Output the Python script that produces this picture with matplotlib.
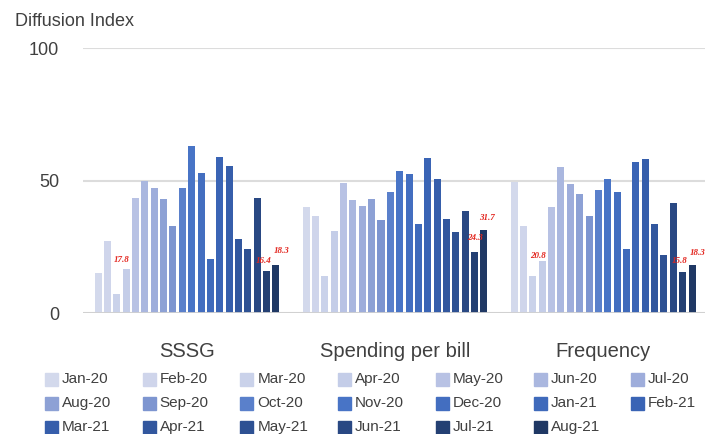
import matplotlib
matplotlib.use("Agg")
import matplotlib.pyplot as plt
from matplotlib.colors import LinearSegmentedColormap
from matplotlib.patches import Rectangle
import numpy as np

plt.rcParams['font.family'] = ['Liberation Sans', 'DejaVu Sans']

# data
groups = ['SSSG', 'Spending per bill', 'Frequency']
months = ['Jan-20', 'Feb-20', 'Mar-20', 'Apr-20', 'May-20', 'Jun-20', 'Jul-20',
          'Aug-20', 'Sep-20', 'Oct-20', 'Nov-20', 'Dec-20', 'Jan-21', 'Feb-21',
          'Mar-21', 'Apr-21', 'May-21', 'Jun-21', 'Jul-21', 'Aug-21']
sssg = [15, 27, 7, 16.5, 43.5, 50, 47, 43, 33, 47, 63, 53, 20.5, 59, 55.5, 28, 24, 43.5, 16, 18]
spending = [40, 36.5, 14, 31, 49, 42.5, 40.5, 43, 35, 45.5, 53.5, 52.5, 33.5, 58.5, 50.5, 35.5, 30.5, 38.5, 23, 31.5]
frequency = [49.5, 33, 14, 19.5, 40, 55, 48.5, 45, 36.5, 46.5, 50.5, 45.5, 24, 57, 58, 33.5, 22, 41.5, 15.5, 18]
values = [sssg, spending, frequency]

# red annotations: (group, month index, text)
notes_group = [0, 0, 0, 1, 1, 2, 2, 2]
notes_idx = [3, 18, 19, 18, 19, 3, 18, 19]
notes_text = ['17.8', '16.4', '18.3', '24.3', '31.7', '20.8', '15.8', '18.3']
notes_dx = [-0.5, -0.3, 0.6, 0.0, 0.3, -0.5, -0.3, 0.6]
notes_dy = [2.0, 2.0, 4.0, 3.8, 3.0, 0.5, 2.8, 3.0]

cmap = LinearSegmentedColormap.from_list(
    'blues', [(0, '#d3d9ec'), (0.15, '#c6cee9'), (0.32, '#9cacda'),
              (0.42, '#7d95d0'), (0.5, '#4a76c9'), (0.7, '#3963b3'),
              (0.85, '#2d5091'), (1, '#1f3864')], N=256)
colors = [cmap(i / 19) for i in range(20)]

txt = '#404040'
fig = plt.figure(figsize=(7.05, 4.34), dpi=100)
ax = fig.add_axes([0.1177, 0.2788, 0.8853, 0.6106])

n = len(months)
slot = 0.9 / n
x = np.arange(len(groups))
for i in range(n):
    xs = x - 0.45 + slot * (i + 0.5)
    ax.bar(xs, [v[i] for v in values], width=slot * 0.75, color=colors[i], zorder=2)

for g, i, t, dx, dy in zip(notes_group, notes_idx, notes_text, notes_dx, notes_dy):
    xp = g - 0.45 + slot * (i + 0.5 + dx)
    ax.text(xp, values[g][i] + dy, t, color='#e3261f', fontsize=6.5,
            fontweight='bold', fontstyle='italic', family='Liberation Serif',
            ha='center', va='bottom', zorder=3)

ax.set_xlim(-0.5, 2.5)
ax.set_ylim(0, 100)
ax.set_yticks([0, 50, 100])
ax.grid(axis='y', color='#dcdcdc', linewidth=1.5, zorder=0)
ax.axhline(0, color='#d0d0d0', linewidth=2, zorder=3)
for s in ax.spines.values():
    s.set_visible(False)
ax.tick_params(axis='y', length=0, pad=17, labelsize=13, labelcolor=txt)
ax.set_xticks(x)
ax.set_xticklabels(groups)
ax.tick_params(axis='x', length=0, pad=21, labelsize=14.5, labelcolor=txt)

fig.text(15 / 705, 1 - 22 / 434, 'Diffusion Index', fontsize=13, color=txt,
         ha='left', va='center')

# legend laid out like the source: 7 columns, row by row
W, H = 705, 434
for i, m in enumerate(months):
    r, c = divmod(i, 7)
    x0 = 45 + c * 97.7
    yc = 379 + r * 24
    fig.add_artist(Rectangle((x0 / W, 1 - (yc + 6.5) / H), 13 / W, 13 / H,
                             transform=fig.transFigure, color=colors[i]))
    fig.text((x0 + 17) / W, 1 - yc / H, m, fontsize=11, color=txt,
             ha='left', va='center')

fig.savefig('out.png', dpi=100)
